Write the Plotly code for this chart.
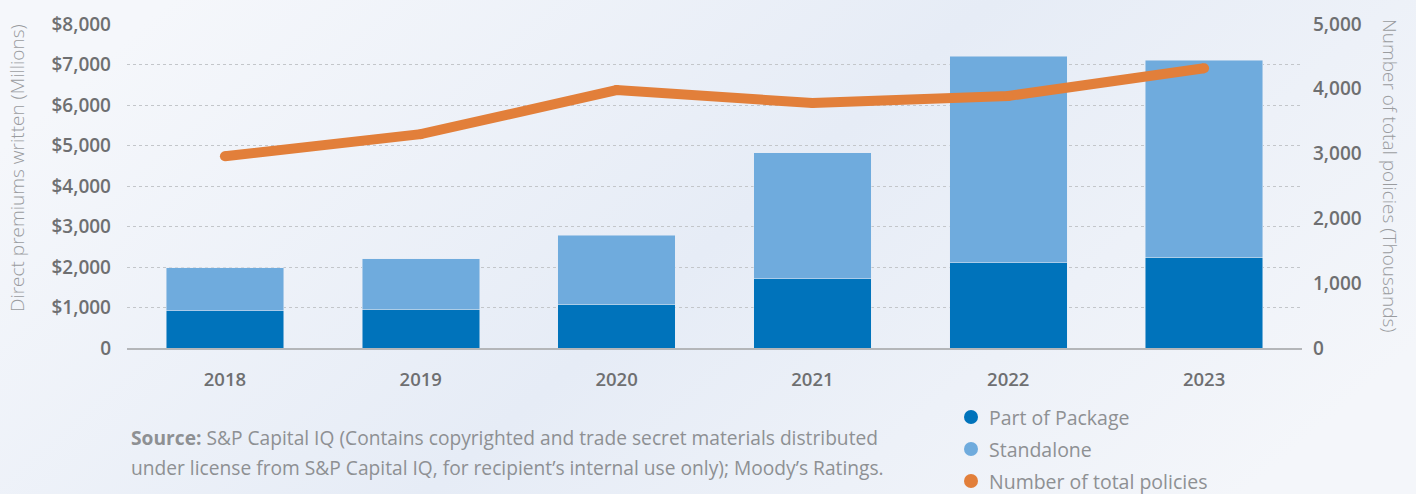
import base64
import plotly.graph_objects as go

years = ["2018", "2019", "2020", "2021", "2022", "2023"]
part_of_package = [914, 963, 1086, 1704, 2099, 2247]
standalone_total = [1985, 2198, 2790, 4815, 7210, 7111]
standalone = [t - p for t, p in zip(standalone_total, part_of_package)]
total_policies = [2960, 3300, 3980, 3780, 3890, 4316]

left_ticks = [0, 1000, 2000, 3000, 4000, 5000, 6000, 7000, 8000]
left_labels = ["0", "$1,000", "$2,000", "$3,000", "$4,000", "$5,000", "$6,000", "$7,000", "$8,000"]
right_ticks = [0, 1000, 2000, 3000, 4000, 5000]
right_labels = ["0", "1,000", "2,000", "3,000", "4,000", "5,000"]
legend_names = ["Part of Package", "Standalone", "Number of total policies"]

C_PART = "#0073BB"
C_STAND = "#6FABDD"
C_LINE = "#E27F3A"
legend_colors = [C_PART, C_STAND, C_LINE]
TXT = "#6e6f71"
LIGHT = "#8e9093"
FONT = "Open Sans"

W, H = 1416, 494
L, R, T, B = 127, 114, 24, 146
PW, PH = W - L - R, H - T - B


def px(xp):
    return (xp - L) / PW


def py(yp):
    return (H - B - yp) / PH


svg = f'''<svg xmlns="http://www.w3.org/2000/svg" width="{W}" height="{H}" viewBox="0 0 {W} {H}" preserveAspectRatio="none">
<defs><linearGradient id="g" x1="0" y1="0.3" x2="1" y2="0.7">
<stop offset="0" stop-color="#f5f7fb"/><stop offset="0.5" stop-color="#e6ecf6"/><stop offset="1" stop-color="#f4f6fa"/>
</linearGradient></defs><rect width="{W}" height="{H}" fill="url(#g)"/></svg>'''
bg = "data:image/svg+xml;base64," + base64.b64encode(svg.encode()).decode()

fig = go.Figure()
fig.add_trace(go.Bar(x=years, y=part_of_package, marker_color=C_PART, width=0.6,
                     showlegend=False, name="Part of Package"))
fig.add_trace(go.Bar(x=years, y=standalone, marker_color=C_STAND, width=0.6,
                     showlegend=False, name="Standalone"))
fig.add_trace(go.Scatter(x=years, y=total_policies, yaxis="y2", mode="lines+markers",
                         line=dict(color=C_LINE, width=10), marker=dict(color=C_LINE, size=10),
                         showlegend=False, name="Number of total policies"))

shapes = []
annotations = [
    dict(text="Direct premiums written (Millions)", textangle=-90, xref="paper", yref="paper",
         x=px(17), y=py(168), xanchor="center", yanchor="middle", showarrow=False,
         font=dict(size=19, color="#9a9c9f", weight=300)),
    dict(text="Number of total policies (Thousands)", textangle=90, xref="paper", yref="paper",
         x=px(1390), y=py(175), xanchor="center", yanchor="middle", showarrow=False,
         font=dict(size=19, color="#9a9c9f", weight=300)),
    dict(text="<b>Source:</b> S&P Capital IQ (Contains copyrighted and trade secret materials distributed",
         xref="paper", yref="paper", x=px(129), y=py(438), xanchor="left", yanchor="middle",
         showarrow=False, font=dict(size=19.2, color=LIGHT)),
    dict(text="under license from S&P Capital IQ, for recipient’s internal use only); Moody’s Ratings.",
         xref="paper", yref="paper", x=px(129), y=py(467), xanchor="left", yanchor="middle",
         showarrow=False, font=dict(size=19.2, color=LIGHT)),
]
legend_y = [417, 449, 481]
for nm, c, yy in zip(legend_names, legend_colors, legend_y):
    shapes.append(dict(type="circle", xref="paper", yref="paper", x0=px(964), x1=px(978),
                       y0=py(yy + 7), y1=py(yy - 7), fillcolor=c, line=dict(width=0)))
    annotations.append(dict(text=nm, xref="paper", yref="paper", x=px(987), y=py(yy),
                            xanchor="left", yanchor="middle", showarrow=False,
                            font=dict(size=19.5, color=LIGHT)))

fig.update_layout(
    width=W, height=H,
    margin=dict(l=L, r=R, t=T, b=B),
    paper_bgcolor="#eef2f8", plot_bgcolor="rgba(0,0,0,0)",
    barmode="stack", bargap=0.4, showlegend=False,
    font=dict(family=FONT, color=TXT),
    xaxis=dict(showgrid=False, showline=True, linecolor="#b4b6b9", linewidth=2,
               ticks="", tickfont=dict(size=18.5, weight=600, color=TXT),
               ticklabelstandoff=14, zeroline=False, automargin=False),
    yaxis=dict(range=[0, 8000], tickvals=left_ticks, ticktext=left_labels,
               tickfont=dict(size=19, weight=600, color=TXT),
               showgrid=True, gridcolor="#c3c6ca", griddash="dot", gridwidth=1,
               zeroline=False, ticks="", ticklabelstandoff=15, automargin=False),
    yaxis2=dict(range=[0, 5000], tickvals=right_ticks, ticktext=right_labels,
                overlaying="y", side="right", showgrid=False, zeroline=False, automargin=False,
                tickfont=dict(size=19, weight=600, color=TXT), ticks="", ticklabelstandoff=10),
    images=[dict(source=bg, xref="paper", yref="paper", x=-L / PW, y=1 + T / PH,
                 sizex=W / PW, sizey=H / PH, sizing="stretch", layer="below",
                 xanchor="left", yanchor="top")],
    shapes=shapes,
    annotations=annotations,
)
fig.write_html("out.html")
